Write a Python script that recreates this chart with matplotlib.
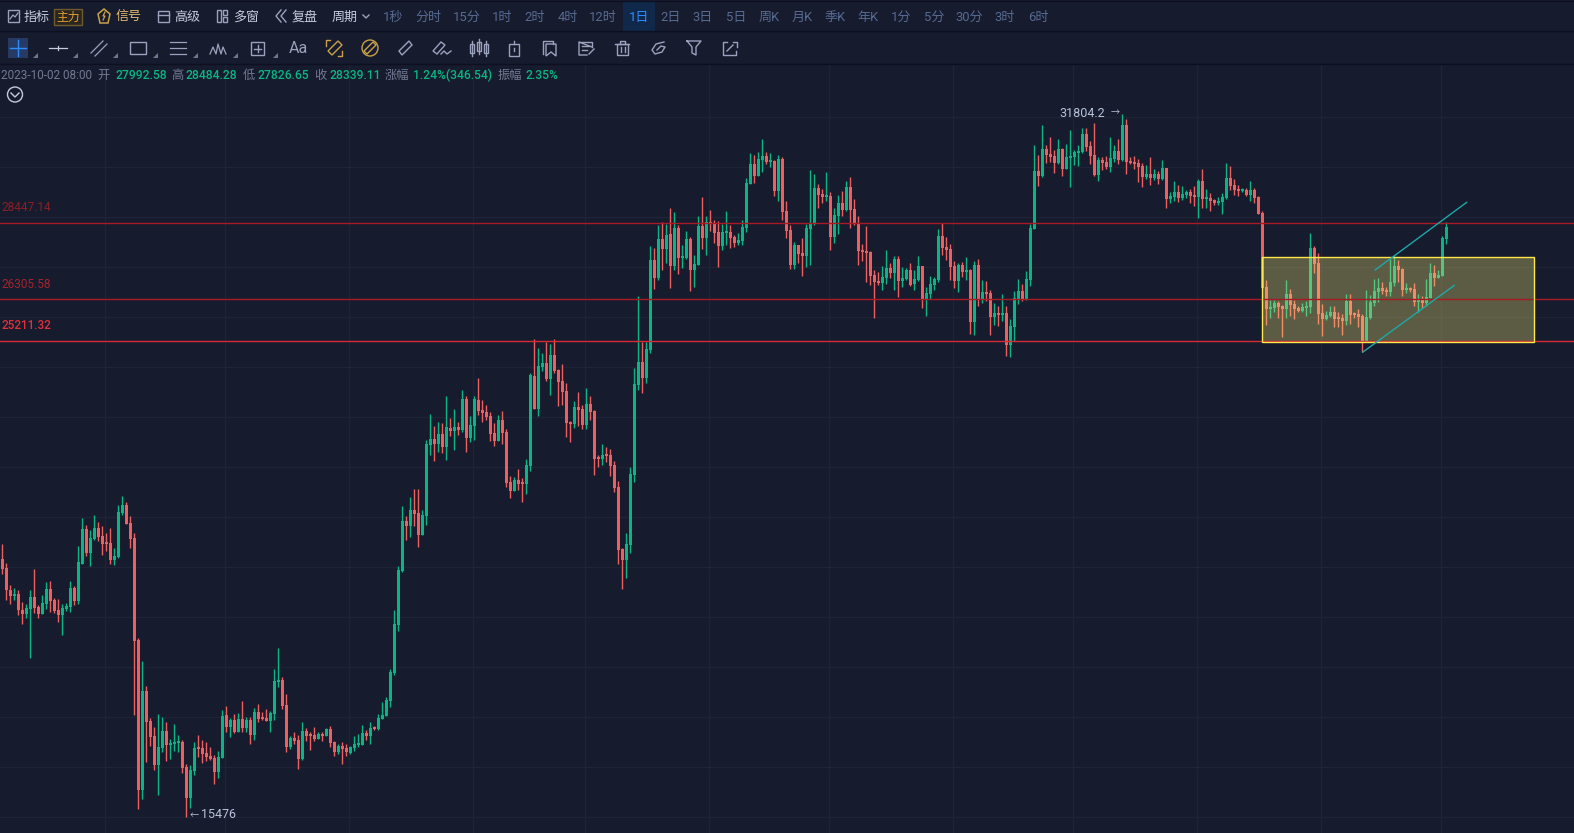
import matplotlib
matplotlib.use("Agg")
import matplotlib.pyplot as plt
from matplotlib.patches import Rectangle, Circle, Polygon

# daily candles
opens = [
    20160, 19970, 19530, 19410, 19450, 19130, 19050, 19150, 19390, 19190,
    19050, 19250, 19550, 19330, 19130, 19030, 19150, 19190, 19570, 19310,
    20060, 20790, 20280, 20580, 20810, 20640, 20510, 20490, 20130, 20200,
    21120, 21300, 20910, 20600, 18550, 15910, 17610, 17070, 16810, 16320,
    16610, 16900, 16660, 16680, 16690, 16710, 16280, 15780, 16220, 16620,
    16610, 16520, 16470, 16440, 16200, 16440, 17170, 16970, 17090, 16880,
    17100, 16950, 17090, 16830, 17230, 17140, 17120, 17070, 17190, 17770,
    17810, 17360, 16620, 16780, 16740, 16420, 16900, 16850, 16830, 16760,
    16850, 16810, 16930, 16710, 16540, 16640, 16610, 16520, 16610, 16660,
    16660, 16860, 16810, 16970, 16930, 17100, 17160, 17430, 17930, 18840,
    19910, 20960, 20850, 21190, 21130, 20660, 21060, 22660, 22800, 22680,
    22910, 22610, 23050, 22980, 23080, 23010, 23750, 22820, 23100, 23730,
    23480, 23430, 23330, 22940, 22750, 23240, 22960, 21810, 21610, 21860,
    21810, 21770, 22170, 24320, 23510, 24540, 24640, 24240, 24850, 24460,
    24190, 23950, 23190, 23150, 23560, 23510, 23120, 23630, 23460, 22380,
    22330, 22450, 22430, 22190, 21700, 20370, 20130, 20450, 21970, 24100,
    24670, 24270, 24970, 27390, 26890, 27990, 27700, 28130, 27210, 28300,
    27440, 27440, 27990, 27100, 27240, 28360, 28010, 28480, 28420, 28190,
    27790, 28160, 28190, 28040, 27870, 27930, 28300, 29610, 30210, 29850,
    30340, 30470, 30280, 30310, 29400, 30370, 28800, 28240, 27240, 27820,
    27590, 27500, 28270, 28420, 29490, 29310, 29220, 29250, 28040, 28650,
    29040, 28830, 29520, 28860, 28420, 27670, 27640, 27620, 26970, 26810,
    26750, 26890, 27160, 27020, 27410, 26810, 26860, 27100, 26720, 26830,
    27210, 26310, 26450, 26700, 26830, 28070, 27760, 27700, 27210, 26810,
    27240, 27050, 27100, 25700, 27240, 26320, 26510, 26480, 25830, 25940,
    25880, 25940, 25100, 25570, 26320, 26530, 26320, 26830, 28270, 30000,
    29850, 30690, 30530, 30470, 30250, 30690, 30060, 30410, 30440, 30560,
    30600, 31170, 30790, 30500, 29880, 30340, 30280, 30120, 30370, 30630,
    30340, 31450, 30310, 30280, 30250, 30150, 29820, 29910, 29790, 29910,
    29760, 30090, 29160, 29220, 29370, 29190, 29280, 29370, 29280, 29220,
    29700, 29160, 29190, 29130, 29040, 29070, 29190, 29790, 29580, 29460,
    29400, 29430, 29280, 29430, 29220, 28740, 26640, 26040, 26070, 26210,
    26130, 26040, 26450, 26180, 26070, 25990, 26070, 26100, 27730, 27300,
    25940, 25780, 25850, 25960, 25830, 25800, 25720, 26260, 25940, 25910,
    25860, 25200, 25800, 26210, 26510, 26620, 26560, 26510, 26750, 27210,
    27130, 26560, 26620, 26590, 26240, 26320, 26210, 26340, 27020, 26890,
    26940, 27992.58,
]
highs = [
    20460, 20070, 19630, 19560, 19530, 19280, 19240, 19520, 19950, 19230,
    19430, 19680, 19710, 19360, 19350, 19250, 19260, 19700, 19610, 20430,
    21020, 20870, 20770, 21080, 20930, 20850, 20700, 20810, 20390, 21300,
    21490, 21370, 21070, 20700, 18590, 18160, 17700, 17120, 16960, 17190,
    17140, 17050, 16760, 17020, 16830, 16740, 16330, 16320, 16710, 16820,
    16740, 16710, 16620, 16490, 16560, 17260, 17330, 17120, 17190, 17210,
    17430, 17140, 17140, 17300, 17370, 17230, 17280, 17250, 18000, 18400,
    17860, 17540, 16810, 16870, 16830, 17060, 16950, 16880, 16970, 16880,
    16880, 16950, 16980, 16720, 16680, 16710, 16680, 16640, 16810, 16850,
    17000, 16920, 17050, 16980, 17190, 17410, 17500, 18000, 19130, 20010,
    21270, 21060, 21480, 21660, 21660, 21190, 22770, 23380, 23090, 23190,
    23170, 23830, 23290, 23510, 23190, 23970, 23810, 23330, 23830, 24270,
    23730, 23600, 23430, 23170, 23360, 23460, 23030, 21950, 21920, 22100,
    21900, 22330, 24390, 25260, 25030, 24890, 25180, 25130, 25260, 24490,
    24610, 24140, 23220, 23700, 23920, 23600, 24010, 23810, 23480, 22430,
    22670, 22610, 22560, 22290, 21840, 20380, 20700, 22150, 24510, 26400,
    25180, 25180, 27770, 27730, 28390, 28470, 28420, 28880, 28760, 28390,
    27800, 28210, 28040, 27530, 28640, 29200, 28650, 28830, 28530, 28500,
    28420, 28790, 28390, 28100, 28160, 28530, 29780, 30560, 30500, 30600,
    31010, 30600, 30560, 30340, 30500, 30430, 29100, 28390, 27900, 27820,
    28010, 28420, 30030, 29900, 29610, 29460, 29970, 29350, 28890, 29280,
    29390, 29690, 29820, 29150, 28650, 27840, 28340, 27640, 27100, 27050,
    27210, 27670, 27300, 27500, 27500, 27190, 27160, 27290, 27100, 27500,
    27210, 26640, 26940, 26910, 28260, 28440, 28040, 27840, 27350, 27300,
    27330, 27470, 27130, 27350, 27400, 26830, 26800, 26540, 26210, 26130,
    26440, 26110, 25780, 26530, 26860, 26720, 27080, 28420, 30820, 30500,
    31440, 30820, 31060, 30660, 31010, 30720, 30850, 31290, 30660, 30820,
    31360, 31360, 30930, 31510, 30430, 30430, 30450, 31070, 30820, 31000,
    31804.2, 31640, 30440, 30460, 30370, 30250, 30180, 30430, 30050, 30000,
    30340, 30090, 29370, 29700, 29580, 29550, 29430, 29460, 29550, 29760,
    30060, 29450, 29340, 29160, 29220, 29340, 30250, 30160, 29760, 29580,
    29490, 29490, 29700, 29490, 29250, 28800, 26830, 26290, 26290, 26260,
    26150, 26830, 26590, 26290, 26130, 26210, 26260, 28160, 27790, 27590,
    26180, 25990, 26130, 26130, 25960, 25910, 26450, 26450, 25960, 26040,
    25910, 26560, 26420, 26860, 26890, 26780, 26640, 27410, 27530, 27390,
    27160, 26750, 26640, 26740, 26450, 26400, 26860, 27300, 27240, 27100,
    28070, 28484.28,
]
lows = [
    19850, 19330, 19240, 19330, 19020, 18860, 18970, 18200, 19060, 18980,
    19050, 19140, 19090, 19060, 18900, 18650, 19110, 19080, 19230, 19240,
    20050, 20210, 20010, 20550, 20520, 20240, 20320, 20050, 20030, 20180,
    21080, 20890, 20390, 17170, 15590, 15760, 16370, 16630, 16230, 15820,
    16540, 16390, 16420, 16560, 16540, 16180, 15476, 15620, 16150, 16450,
    16350, 16390, 16400, 16000, 16100, 16440, 16880, 16800, 16860, 16880,
    16880, 16880, 16680, 16740, 17050, 17090, 17070, 16880, 17090, 17670,
    17280, 16540, 16590, 16680, 16250, 16400, 16730, 16570, 16730, 16760,
    16730, 16810, 16620, 16470, 16500, 16330, 16470, 16500, 16560, 16620,
    16660, 16740, 16680, 16920, 16920, 17100, 17160, 17320, 17900, 18720,
    19890, 20560, 20620, 20850, 20410, 20660, 20870, 22420, 22290, 22490,
    22470, 22310, 22870, 22540, 22890, 22960, 22490, 22730, 22770, 23360,
    23200, 23240, 22750, 22630, 22750, 22680, 21700, 21460, 21610, 21640,
    21360, 21550, 22050, 23510, 23330, 24440, 24190, 23850, 24390, 23580,
    23600, 22840, 22730, 23050, 23100, 23030, 23030, 23240, 21970, 22150,
    22190, 22260, 21940, 21590, 20050, 19550, 19760, 20270, 21810, 23970,
    23900, 24130, 24900, 26590, 26830, 27110, 27300, 26610, 27100, 27000,
    27160, 27410, 26520, 26640, 27240, 27700, 27530, 28210, 27860, 27200,
    27670, 27820, 27720, 27760, 27820, 27820, 28180, 29600, 29640, 29850,
    29970, 30210, 30120, 29250, 29100, 28530, 28010, 27130, 27130, 27300,
    26940, 27190, 27230, 28390, 28890, 29040, 29090, 27670, 27870, 28120,
    28650, 28800, 28300, 28390, 27240, 27350, 26780, 26700, 25810, 26700,
    26560, 26720, 26870, 26560, 26370, 26640, 26830, 26670, 26540, 26810,
    26080, 25860, 26320, 26560, 26770, 27530, 27390, 26830, 26620, 26510,
    26910, 26830, 25390, 25360, 26130, 26210, 26260, 25360, 25620, 25600,
    25720, 24820, 24790, 25210, 26180, 26260, 26290, 26670, 28260, 29530,
    29800, 30250, 30280, 29940, 30210, 29850, 30060, 29510, 30180, 30150,
    30560, 30630, 30210, 29850, 29700, 30030, 30060, 29970, 30280, 30210,
    30310, 29910, 30210, 30060, 29670, 29520, 29760, 29580, 29730, 29610,
    29730, 28870, 29040, 29100, 29070, 29130, 29190, 29040, 28950, 28590,
    28880, 28890, 28800, 28980, 28980, 28710, 29160, 29430, 29280, 29250,
    29370, 29250, 29100, 29030, 28710, 26610, 25620, 25800, 25960, 25800,
    25310, 25800, 25850, 25780, 25960, 25960, 25850, 25940, 27010, 25650,
    25340, 25750, 25830, 25570, 25570, 25360, 25620, 25650, 25800, 25570,
    24920, 25200, 25780, 26130, 26240, 26450, 26400, 26400, 26670, 26780,
    26380, 26480, 26510, 26130, 25960, 26070, 26130, 26340, 26670, 26890,
    26940, 27826.65,
]
closes = [
    19950, 19520, 19410, 19450, 19120, 19050, 19160, 19390, 19170, 19050,
    19270, 19550, 19310, 19110, 19030, 19170, 19210, 19570, 19310, 20090,
    20790, 20280, 20600, 20810, 20620, 20470, 20470, 20130, 20220, 21150,
    21300, 20890, 20580, 18530, 15910, 17610, 17050, 16800, 16320, 16620,
    16900, 16660, 16690, 16710, 16730, 16270, 15780, 16230, 16610, 16590,
    16500, 16450, 16420, 16200, 16450, 17160, 16970, 17090, 16880, 17100,
    16950, 17090, 16830, 17230, 17100, 17100, 17070, 17210, 17790, 17810,
    17340, 16620, 16780, 16730, 16420, 16900, 16810, 16810, 16760, 16850,
    16810, 16930, 16690, 16540, 16640, 16590, 16540, 16620, 16680, 16690,
    16860, 16810, 16950, 16930, 17120, 17170, 17450, 17950, 18860, 19930,
    20960, 20850, 21190, 21100, 20660, 21080, 22680, 22800, 22680, 22910,
    22610, 23080, 22980, 23080, 23010, 23750, 22820, 23120, 23750, 23460,
    23410, 23310, 22910, 22750, 23240, 22940, 21790, 21610, 21860, 21770,
    21770, 22190, 24340, 23510, 24560, 24640, 24240, 24850, 24440, 24170,
    23920, 23170, 23150, 23560, 23480, 23120, 23630, 23430, 22330, 22330,
    22430, 22400, 22170, 21680, 20350, 20130, 20470, 21990, 24120, 24670,
    24270, 25000, 27390, 26890, 27990, 27700, 28100, 27210, 28300, 27440,
    27500, 27990, 27100, 27270, 28360, 28010, 28470, 28440, 28160, 27790,
    28190, 28220, 28010, 27870, 27960, 28330, 29640, 30210, 29850, 30370,
    30470, 30280, 30340, 29400, 30370, 28770, 28210, 27240, 27820, 27560,
    27500, 28300, 28420, 29490, 29280, 29220, 29280, 28040, 28680, 29040,
    28830, 29520, 28830, 28420, 27640, 27620, 27590, 26940, 26780, 26750,
    26910, 27160, 27020, 27410, 26810, 26890, 27100, 26700, 26860, 27210,
    26310, 26480, 26720, 26860, 28070, 27730, 27670, 27190, 26810, 27240,
    27050, 27100, 25700, 27240, 26320, 26510, 26450, 25830, 25940, 25880,
    25940, 25100, 25600, 26330, 26530, 26320, 26860, 28300, 30000, 29850,
    30690, 30500, 30440, 30250, 30690, 30060, 30440, 30470, 30600, 30630,
    31170, 30750, 30470, 29880, 30340, 30250, 30120, 30410, 30630, 30340,
    31450, 30280, 30250, 30210, 30120, 29820, 29910, 29790, 29910, 29760,
    30090, 29160, 29250, 29370, 29190, 29310, 29370, 29250, 29220, 29700,
    29160, 29220, 29100, 29040, 29100, 29220, 29790, 29550, 29430, 29400,
    29460, 29280, 29430, 29190, 28710, 26610, 26040, 26100, 26190, 26100,
    26040, 26450, 26150, 26040, 25990, 26100, 26130, 27730, 27270, 25910,
    25780, 25880, 25960, 25780, 25780, 25720, 26260, 25880, 25880, 25830,
    25200, 25830, 26240, 26530, 26620, 26530, 26510, 26780, 27210, 27100,
    26560, 26620, 26560, 26240, 26290, 26210, 26370, 27020, 26890, 26970,
    28010, 28339.11,
]

grid_prices = [31716, 30131, 28625, 27195, 25836, 24545, 23318, 22153, 21046,
               19994, 18995, 18046, 17144, 16287, 15473]
month_starts = [25.75, 55.75, 86.75, 117.75, 145.75, 176.75, 206.75, 237.75,
                267.75, 298.75, 329.75, 359.75]
level_prices = [28447.14, 26305.58, 25211.32]
level_labels = ["28447.14", "26305.58", "25211.32"]

periods = ["1秒", "分时", "15分", "1时", "2时", "4时", "12时", "1日", "2日", "3日",
           "5日", "周K", "月K", "季K", "年K", "1分", "5分", "30分", "3时", "6时"]
period_x = [393, 428, 467, 502, 535, 568, 603, 639, 671, 703, 736, 769, 802,
            835, 868, 901, 934, 969, 1005, 1038]

BG = "#171b2e"
GRID = "#1e2336"
UP = "#0ab583"
DOWN = "#ee5f5f"
ICON = "#9aa2bd"
GOLD = "#c9a24a"

plt.rcParams["font.family"] = ["Roboto", "Noto Sans CJK SC", "DejaVu Sans"]

fig = plt.figure(figsize=(15.74, 8.33), dpi=100, facecolor=BG)

# price panel fills the figure, log scale like the original
ax = fig.add_axes([0, 0, 1, 1], facecolor=BG)
ax.set_yscale("log")
ax.set_xlim(-0.575, 392.925)
ax.set_ylim(15218, 35747)
ax.set_yticks(grid_prices)
ax.set_yticks([], minor=True)
ax.set_xticks(month_starts)
ax.grid(True, color=GRID, lw=1, zorder=0)
ax.tick_params(which="both", length=0, labelleft=False, labelbottom=False)
for s in ax.spines.values():
    s.set_visible(False)

xs = list(range(len(opens)))
colors = [UP if c >= o else DOWN for o, c in zip(opens, closes)]
bottoms = [min(o, c) for o, c in zip(opens, closes)]
heights = [max(abs(c - o), 1) for o, c in zip(opens, closes)]
ax.vlines(xs, lows, highs, colors=colors, lw=1.0, zorder=2)
ax.bar(xs, heights, bottom=bottoms, width=0.75, color=colors, lw=0, zorder=3)

# consolidation box and channel
ax.add_patch(Rectangle((315, 25167), 68, 27471 - 25167, facecolor="#fff176", alpha=0.3,
                       edgecolor="none", zorder=4))
ax.add_patch(Rectangle((315, 25167), 68, 27471 - 25167, fill=False, edgecolor="#ffe94a",
                       lw=1.0, zorder=6))
ax.plot([343.2, 366.1], [27103, 29051], color="#1fa8a8", lw=1.0, zorder=6)
ax.plot([340.1, 363], [24913, 26680], color="#1fa8a8", lw=1.0, zorder=6)

for price, col in zip(level_prices, ["#a81a24", "#a81a24", "#d42b36"]):
    ax.axhline(price, color=col, lw=1.0, zorder=5)

# everything below is placed in screen pixels
ui = fig.add_axes([0, 0, 1, 1], facecolor="none")
ui.set_xlim(0, 1574)
ui.set_ylim(833, 0)
ui.axis("off")

ui.add_patch(Rectangle((0, 0), 1574, 64, facecolor=BG, edgecolor="none"))
ui.add_patch(Rectangle((623, 1), 32, 30, facecolor="#10294a", edgecolor="none"))
for y in [0.5, 31, 64]:
    ui.plot([0, 1574], [y, y], color="#0d1020", lw=1)

ui.text(1, 207, level_labels[0], color="#8a1f26", fontsize=8.5, va="center")
ui.text(1, 284, level_labels[1], color="#a3242c", fontsize=8.5, va="center")
ui.text(1, 325, level_labels[2], color="#e0303a", fontsize=8.5, fontweight="medium", va="center")

ui.text(1105, 113, "31804.2", color="#b8c4dc", fontsize=9, ha="right", va="center")
ui.text(1111, 113, "→", color="#b8c4dc", fontsize=6.5, ha="left", va="center")
ui.text(190, 816, "←", color="#b8c4dc", fontsize=6.5, ha="left", va="center")
ui.text(201, 815, "15476", color="#b8c4dc", fontsize=9, ha="left", va="center")

# top row
for label, x in [("指标", 37), ("高级", 187), ("多窗", 246), ("复盘", 305), ("周期", 345)]:
    ui.text(x, 17, label, color="#c5cbdc", fontsize=9.4, ha="center", va="center")
ui.text(129, 17, "信号", color="#e0bb70", fontsize=9.4, ha="center", va="center")
ui.add_patch(Rectangle((54, 9), 28, 16, facecolor="#2a2620", edgecolor="#6f5a2e", lw=1))
ui.text(68, 17.5, "主力", color="#e3a030", fontsize=8.5, ha="center", va="center")
ui.plot([363, 366, 369], [15, 18, 15], color=ICON, lw=1)
for label, x in zip(periods, period_x):
    col = "#2f8cff" if label == "1日" else "#566a92"
    ui.text(x, 17, label, color=col, fontsize=9.4, ha="center", va="center")

# top row icons
ui.add_patch(Rectangle((8, 10), 11, 12, fill=False, edgecolor=ICON, lw=1))
ui.plot([10, 13, 15, 18], [19, 15, 17, 13], color=ICON, lw=0.9)
ui.add_patch(Polygon([(98, 14), (104, 9), (110, 14), (108, 23), (100, 23)], fill=False,
                     edgecolor=GOLD, lw=1.1))
ui.plot([105, 103, 105, 103], [12, 16, 16, 20], color=GOLD, lw=0.9)
ui.add_patch(Rectangle((158, 11), 11, 11, fill=False, edgecolor=ICON, lw=1))
ui.plot([158, 169], [15, 15], color=ICON, lw=1)
ui.add_patch(Rectangle((217, 10), 4, 12, fill=False, edgecolor=ICON, lw=1))
ui.add_patch(Rectangle((223, 10), 4, 5, fill=False, edgecolor=ICON, lw=1))
ui.add_patch(Rectangle((223, 17), 4, 5, fill=False, edgecolor=ICON, lw=1))
ui.plot([281, 276, 281], [10, 16, 22], color=ICON, lw=1)
ui.plot([286, 281, 286], [10, 16, 22], color=ICON, lw=1)

# second row: drawing tools
ui.add_patch(Rectangle((8, 38), 20, 20, facecolor="#263a63", edgecolor="none"))
ui.plot([10, 26], [48, 48], color="#2a8cff", lw=1)
ui.plot([18, 18], [40, 56], color="#2a8cff", lw=1)
for x in [35, 75, 115, 155, 195, 235, 275]:
    ui.add_patch(Polygon([(x - 2.5, 58), (x + 2.5, 58), (x + 2.5, 53)], facecolor="#6f7690",
                         edgecolor="none"))
ui.plot([49, 67], [48, 48], color="#c5cbdc", lw=0.9)
ui.plot([58, 58], [46, 50], color="#c5cbdc", lw=0.9)
ui.plot([91, 103], [53, 41], color=ICON, lw=0.9)
ui.plot([95, 107], [56, 44], color=ICON, lw=0.9)
ui.add_patch(Rectangle((130, 42), 16, 12, fill=False, edgecolor=ICON, lw=1))
for y in [42, 48, 54]:
    ui.plot([170, 186], [y, y], color=ICON, lw=0.9)
ui.plot([210, 213, 216, 218, 221, 223, 226], [54, 47, 54, 44, 54, 47, 54], color=ICON, lw=0.9)
ui.add_patch(Rectangle((251, 42), 13, 13, fill=False, edgecolor=ICON, lw=1))
ui.plot([254, 261], [48.5, 48.5], color=ICON, lw=1)
ui.plot([257.5, 257.5], [45, 52], color=ICON, lw=1)
ui.text(298, 48, "Aa", color=ICON, fontsize=11.5, ha="center", va="center")
ui.add_patch(Polygon([(328, 51), (338, 41), (342, 45), (332, 55)], fill=False, edgecolor=GOLD, lw=1))
ui.plot([326, 326, 330], [46, 40, 40], color=GOLD, lw=1)
ui.plot([338, 342, 342], [56, 56, 51], color=GOLD, lw=1)
ui.add_patch(Circle((370, 48), 8, fill=False, edgecolor=GOLD, lw=1))
ui.add_patch(Polygon([(364, 51), (373, 42), (376, 45), (367, 54)], fill=False, edgecolor=GOLD, lw=1))
ui.add_patch(Polygon([(399, 51), (409, 41), (412, 45), (402, 55)], fill=False, edgecolor=ICON, lw=1))
ui.add_patch(Polygon([(433, 51), (441, 42), (445, 45), (437, 54)], fill=False, edgecolor=ICON, lw=1))
ui.plot([441, 444, 447, 451], [54, 51, 54, 51], color=ICON, lw=1)
for x, top, bot in [(472, 44, 53), (479, 42, 51), (486, 44, 53)]:
    ui.plot([x, x], [top - 3, bot + 3], color=ICON, lw=1)
    ui.add_patch(Rectangle((x - 2, top), 4, bot - top, fill=False, edgecolor=ICON, lw=1))
ui.add_patch(Rectangle((509, 44), 10, 12, fill=False, edgecolor=ICON, lw=1))
ui.plot([514, 514], [41, 44], color=ICON, lw=1)
ui.plot([514, 514], [48, 51], color=ICON, lw=1)
ui.plot([543, 543, 553, 553], [54, 41, 41, 44], color=ICON, lw=1)
ui.add_patch(Polygon([(546, 44), (556, 44), (556, 56), (551, 52), (546, 56)], fill=False,
                     edgecolor=ICON, lw=1))
ui.plot([592, 579, 579, 587], [47, 42, 55, 55], color=ICON, lw=1)
ui.plot([579, 592, 592], [42, 42, 47], color=ICON, lw=1)
ui.plot([582, 589], [46, 46], color=ICON, lw=1)
ui.plot([582, 587], [50, 50], color=ICON, lw=1)
ui.plot([589, 594], [54, 49], color=ICON, lw=1)
ui.plot([615, 629], [44, 44], color=ICON, lw=1)
ui.plot([620, 620, 625, 625], [44, 41, 41, 44], color=ICON, lw=1)
ui.add_patch(Rectangle((617, 44), 11, 11, fill=False, edgecolor=ICON, lw=1))
ui.plot([620.5, 620.5], [47, 52], color=ICON, lw=1)
ui.plot([624.5, 624.5], [47, 52], color=ICON, lw=1)
ui.plot([664, 656, 652, 655, 662, 665, 661, 657], [42, 44, 50, 54, 52, 47, 46, 50], color=ICON, lw=1)
ui.plot([687, 701, 696, 696, 692, 692, 687], [41, 41, 47, 55, 53, 47, 41], color=ICON, lw=1)
ui.plot([727, 723, 723, 736, 736], [42, 42, 55, 55, 51], color=ICON, lw=1)
ui.plot([733, 737, 737], [42, 42, 47], color=ICON, lw=1)
ui.plot([727, 733], [51, 45], color=ICON, lw=1)

# info line
ui.text(1, 75, "2023-10-02 08:00", color="#727a92", fontsize=8.5, va="center")
for label, x in [("开", 104), ("高", 177), ("低", 249), ("收", 320), ("涨幅", 397), ("振幅", 510)]:
    ui.text(x, 75, label, color="#727a92", fontsize=8.8, ha="center", va="center")
for label, x in [("27992.58", 115), ("28484.28", 186), ("27826.65", 258), ("28339.11", 329),
                 ("1.24%(346.54)", 413), ("2.35%", 526)]:
    ui.text(x, 75, label, color="#0ab583", fontsize=8.7, fontweight="medium", va="center")
ui.add_patch(Circle((15, 94.5), 7.5, fill=False, edgecolor="#c5cbdc", lw=1))
ui.plot([11, 15, 19], [93, 97, 93], color="#c5cbdc", lw=1)

fig.savefig("out.png", dpi=100, facecolor=BG)
